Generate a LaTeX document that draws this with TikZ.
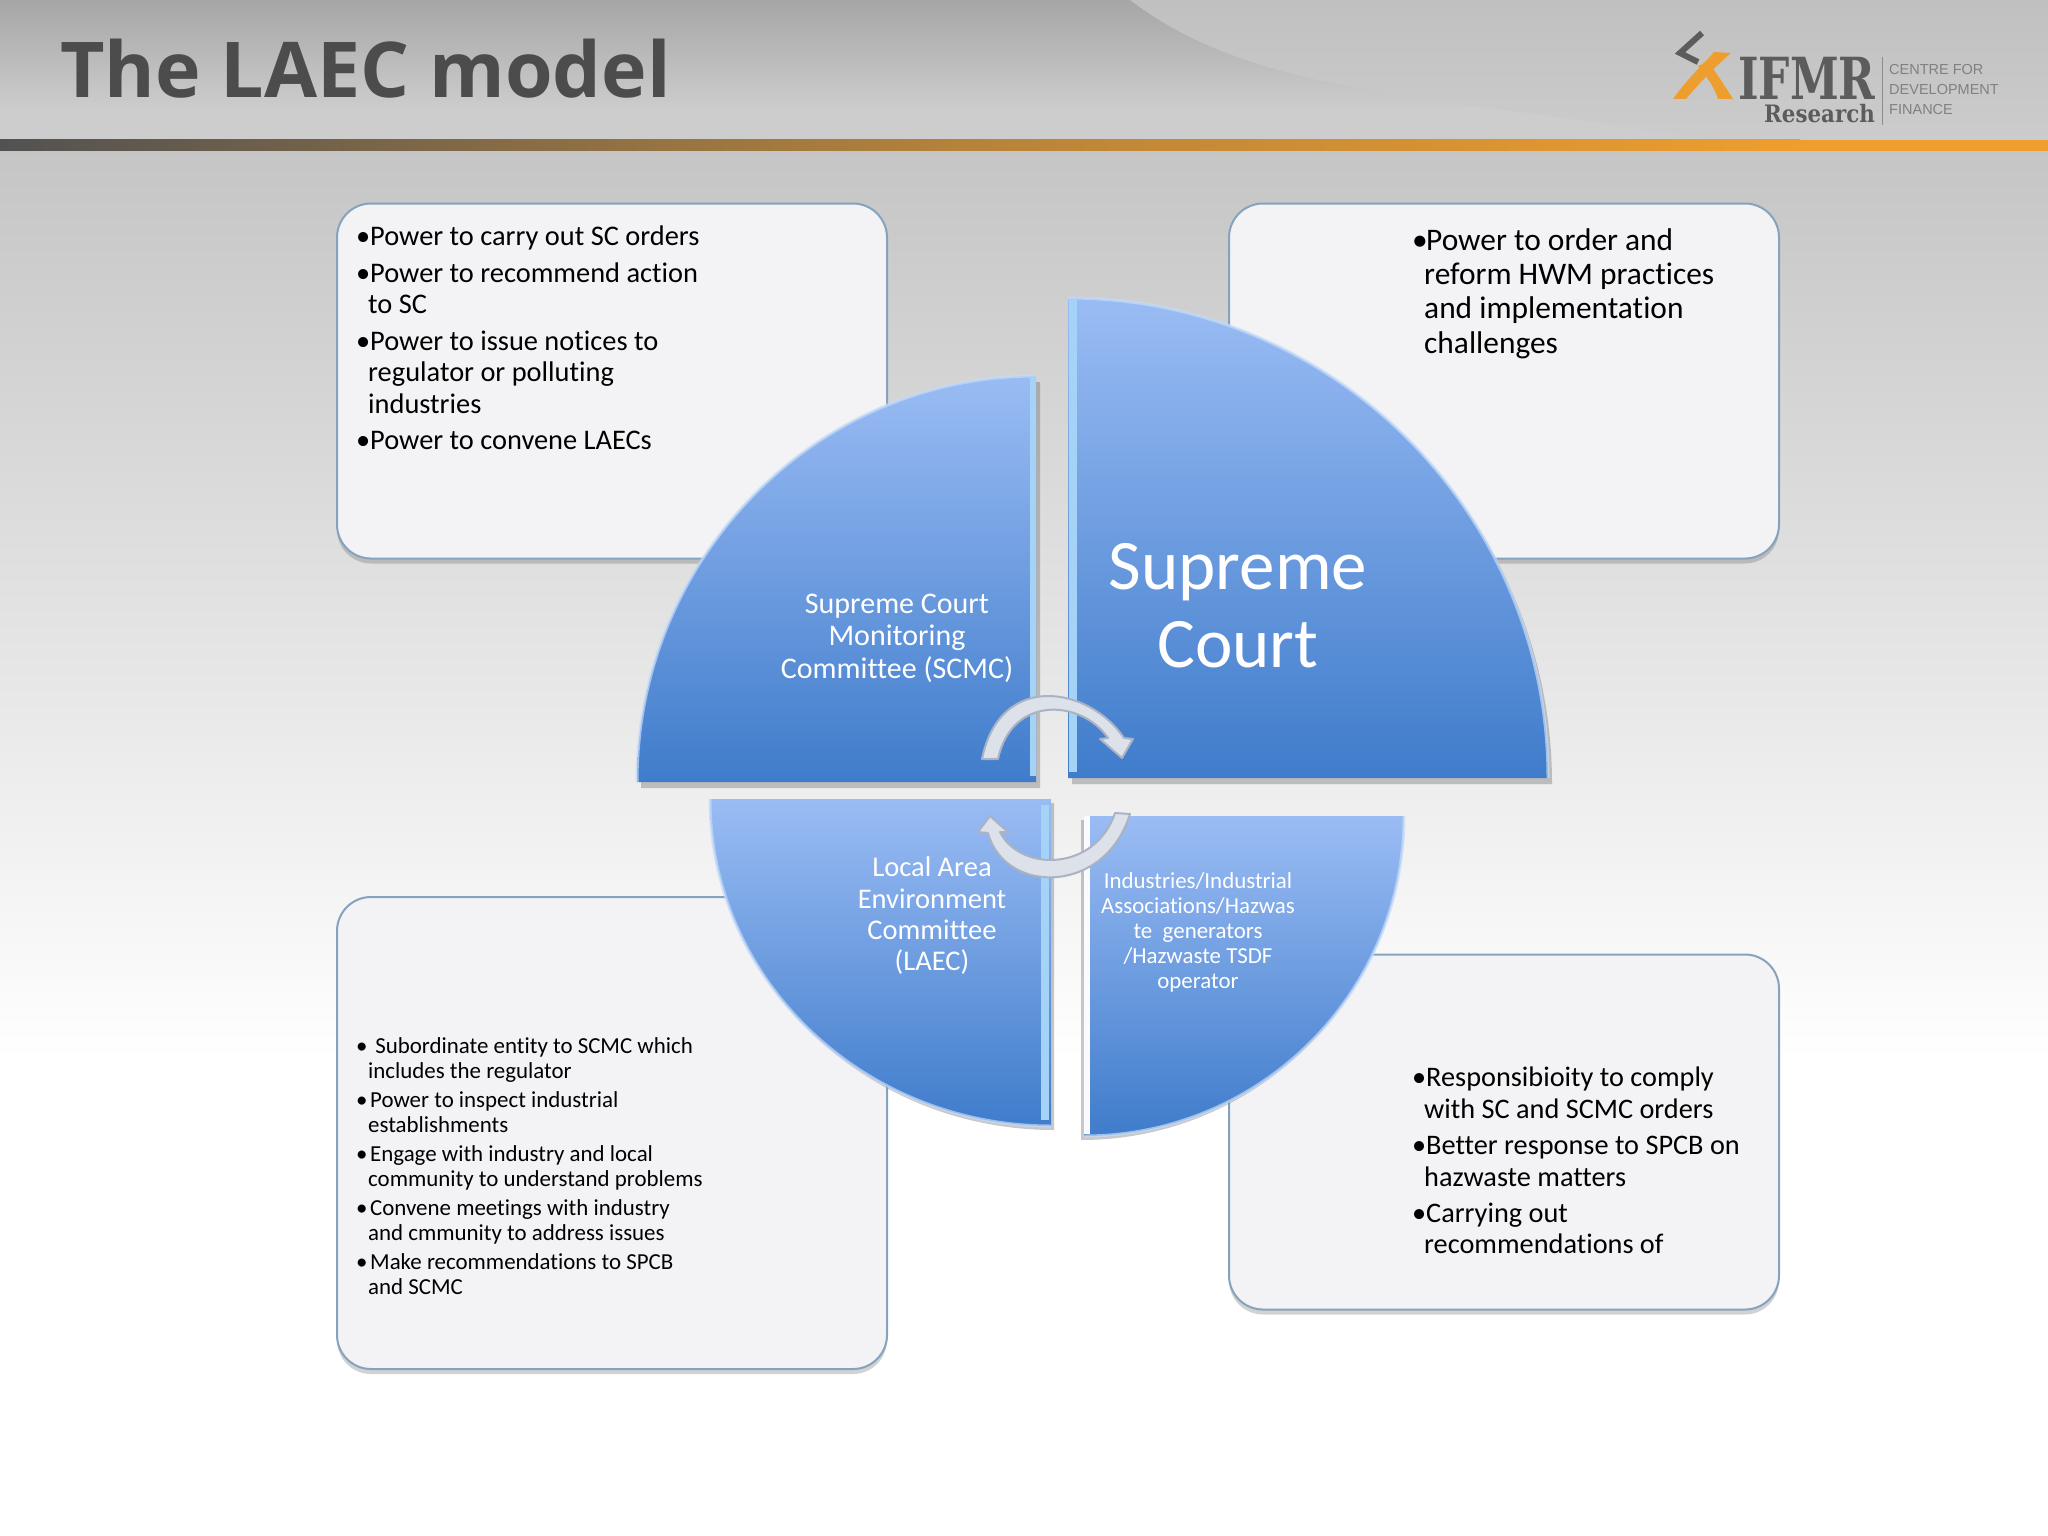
\documentclass[tikz,border=0pt]{standalone}
\usepackage{fontspec}
\setmainfont[Ligatures=NoCommon]{Carlito}
\newfontfamily\titlefont{Open Sans}
\newfontfamily\logoserif{DejaVu Serif}
\newfontfamily\logosans{Liberation Sans}
\usetikzlibrary{arrows.meta,shadows}

\definecolor{panelfill}{HTML}{F3F3F5}
\definecolor{paneledge}{HTML}{86A3BE}
\definecolor{discLight}{HTML}{9ABCF4}
\definecolor{discDark}{HTML}{3F7CCB}
\definecolor{discEdge}{HTML}{C4DBF9}
\definecolor{discBevel}{HTML}{A5D2F7}
\definecolor{logoOrange}{HTML}{EE9E2E}
\definecolor{logoGray}{HTML}{5C5C5C}
\definecolor{turnEdge}{HTML}{A9B3C3}
\definecolor{turnFace}{HTML}{DCE1EA}
\definecolor{bandTop}{HTML}{A6A6A6}
\definecolor{bandLow}{HTML}{CDCDCD}
\definecolor{sweepTop}{HTML}{C0C0C0}
\definecolor{sweepLow}{HTML}{CCCCCC}
\definecolor{pageTop}{HTML}{C5C5C5}
\definecolor{stripeDark}{HTML}{525252}
\definecolor{stripeMid}{HTML}{B98439}

\newcommand{\lbl}{\makebox[14pt][l]{\textbullet}}
\newcommand{\lcont}{\hspace*{12pt}}

\tikzset{
	panelbox/.style={draw=paneledge,line width=2pt,fill=panelfill,rounded corners=34pt,inner sep=0pt,
		drop shadow={shadow xshift=0pt,shadow yshift=-5pt,opacity=.25,fill=black!70}},
	listtext/.style={align=left,anchor=north west,inner sep=0pt,text=black},
	disclabel/.style={align=center,text=white,inner sep=0pt},
	discfill/.style={top color=discLight,bottom color=discDark},
	discshadow/.style={fill=black!70,opacity=.3},
	discrim/.style={draw=discEdge,line width=3pt,opacity=.7},
	turnband/.style={draw=turnEdge,line width=2pt,fill=turnFace,line join=round},
}

\begin{document}
\begin{tikzpicture}[x=1pt,y=1pt]

	\useasboundingbox (0,0) rectangle (2048,-1536);

	% page and title band
	\shade[top color=pageTop,bottom color=white] (0,-148) rectangle (2048,-1060);
	\fill[white] (0,-1060) rectangle (2048,-1536);
	\shade[top color=bandTop,bottom color=bandLow] (0,0) rectangle (2048,-110);
	\fill[bandLow] (0,-110) rectangle (2048,-141);
	\shade[top color=sweepTop,bottom color=sweepLow] (1130,0) .. controls (1170,-30) and (1230,-65) .. (1358,-88) .. controls (1450,-105) and (1560,-115) .. (1720,-141) -- (2048,-141) -- (2048,0) -- cycle;
	\shade[left color=stripeDark,right color=stripeMid] (0,-140) rectangle (1000,-151);
	\shade[left color=stripeMid,right color=logoOrange] (1000,-140) rectangle (1800,-151);
	\fill[logoOrange] (1800,-140) rectangle (2048,-151);

	\node[anchor=base west,inner sep=0pt,text=black!70,font=\fontsize{77}{90}\selectfont\titlefont\bfseries] (title) at (60,-98) {The LAEC model};

	% logo
	\fill[logoOrange] (1673,-99) .. controls (1690,-75) and (1708,-60) .. (1714,-52) -- (1731,-53) .. controls (1716,-66) and (1700,-82) .. (1686,-99) -- cycle;
	\fill[logoOrange] (1698,-66) -- (1708,-62) .. controls (1718,-75) and (1726,-88) .. (1733,-99) -- (1718,-99) .. controls (1714,-86) and (1706,-76) .. (1698,-66) -- cycle;
	\draw[logoGray,line width=6pt] (1702,-33) -- (1680,-53) -- (1698,-62);
	\node[anchor=base west,inner sep=0pt,text=logoGray,font=\fontsize{58}{58}\selectfont\logoserif\bfseries] (logoName) at (1738,-100) {\scalebox{.76}[1]{IFMR}};
	\node[anchor=base east,inner sep=0pt,text=logoGray,font=\fontsize{24}{24}\selectfont\logoserif\bfseries] (logoSub) at (1875,-123) {\scalebox{.89}[1]{Research}};
	\draw[black!45,line width=1pt] (1882,-57) -- (1882,-125);
	\node[anchor=north west,align=left,inner sep=0pt,text=black!50,font=\fontsize{14.5}{20}\selectfont\logosans] (logoText) at (1889,-64) {CENTRE FOR\\DEVELOPMENT\\FINANCE};

	% text panels
	\node[panelbox,minimum width=550pt,minimum height=355pt] (boxPowers) at (612,-381) {};
	\node[panelbox,minimum width=550pt,minimum height=355pt] (boxCourt) at (1504,-381) {};
	\node[panelbox,minimum width=550pt,minimum height=472pt] (boxLaec) at (612,-1133) {};
	\node[panelbox,minimum width=550pt,minimum height=355pt] (boxIndustry) at (1504,-1132) {};

	% quarter discs
	\fill[discshadow] (1040,-788) -- (1040,-382) arc[start angle=90,end angle=180,x radius=399,y radius=406] -- cycle;
	\shade[discfill] (1036,-782) -- (1036,-376) arc[start angle=90,end angle=180,x radius=399,y radius=406] -- cycle;
	\draw[discrim] (1036,-376) arc[start angle=90,end angle=180,x radius=399,y radius=406];
	\fill[discBevel] (1030,-378) rectangle (1036,-776);

	\fill[discshadow] (1072,-784) -- (1072,-304) arc[start angle=90,end angle=0,radius=480] -- cycle;
	\shade[discfill] (1068,-778) -- (1068,-298) arc[start angle=90,end angle=0,radius=480] -- cycle;
	\draw[discrim] (1068,-298) arc[start angle=90,end angle=0,radius=480];
	\fill[discBevel] (1069,-300) rectangle (1077,-772);

	\fill[discshadow] (1054,-803) -- (713,-803) arc[start angle=180,end angle=270,x radius=341,y radius=327] -- cycle;
	\shade[discfill] (1051,-799) -- (710,-799) arc[start angle=180,end angle=270,x radius=341,y radius=327] -- cycle;
	\draw[discrim] (710,-799) arc[start angle=180,end angle=270,x radius=341,y radius=327];
	\fill[discBevel] (1041,-805) rectangle (1049,-1120);

	\fill[discshadow] (1081,-820) -- (1401,-820) arc[start angle=0,end angle=-90,radius=320] -- cycle;
	\shade[discfill] (1084,-816) -- (1404,-816) arc[start angle=0,end angle=-90,radius=320] -- cycle;
	\draw[discrim] (1404,-816) arc[start angle=0,end angle=-90,radius=320];
	\fill[white!90!discEdge] (1084,-816) rectangle (1090,-1134);

	% disc labels
	\node[disclabel,font=\fontsize{71}{78}\selectfont] (labelCourt) at (1238,-606) {Supreme\\Court};
	\node[disclabel,font=\fontsize{30}{32.6}\selectfont] (labelScmc) at (897,-638) {Supreme Court\\Monitoring\\Committee (SCMC)};
	\node[disclabel,font=\fontsize{28.5}{31.3}\selectfont] (labelLaec) at (932,-916) {Local Area\\Environment\\Committee\\(LAEC)};
	\node[disclabel,font=\fontsize{22.9}{25}\selectfont] (labelIndustry) at (1198,-932) {Industries/Industrial\\Associations/Hazwas\\te\ \ generators\\/Hazwaste TSDF\\operator};

	% turning arrows
	\coordinate (turnTopStart) at (982,-759);
	\coordinate (turnTopTip) at (1122,-758);
	\coordinate (turnLowStart) at (1130,-814);
	\coordinate (turnLowTip) at (990,-816);
	\draw[turnband] (turnTopStart) .. controls (1000,-670) and (1090,-687) .. (1124,-738) -- (1133,-739) -- (turnTopTip) -- (1100,-739) -- (1108,-738) .. controls (1082,-700) and (1012,-694) .. (998,-759) -- cycle;
	\draw[turnband] (turnLowStart) .. controls (1105,-895) and (1005,-895) .. (988,-833) -- (978,-832) -- (turnLowTip) -- (1008,-832) -- (1000,-832) .. controls (1020,-872) and (1095,-872) .. (1115,-813) -- cycle;

	% panel texts
	\node[listtext,font=\fontsize{28.4}{31.3}\selectfont] (listPowers) at (356,-226) {
		\lbl Power to carry out SC orders\\[5.3pt]
		\lbl Power to recommend action\\
		\lcont to SC\\[5.3pt]
		\lbl Power to issue notices to\\
		\lcont regulator or polluting\\
		\lcont industries\\[5.3pt]
		\lbl Power to convene LAECs};
	\node[listtext,font=\fontsize{31.4}{34.4}\selectfont] (listCourt) at (1412,-228) {
		\lbl Power to order and\\
		\lcont reform HWM practices\\
		\lcont and implementation\\
		\lcont challenges};
	\node[listtext,font=\fontsize{22.9}{25}\selectfont] (listLaec) at (356,-1037) {
		\lbl\ Subordinate entity to SCMC which\\
		\lcont includes the regulator\\[4pt]
		\lbl Power to inspect industrial\\
		\lcont establishments\\[4pt]
		\lbl Engage with industry and local\\
		\lcont community to understand problems\\[4pt]
		\lbl Convene meetings with industry\\
		\lcont and cmmunity to address issues\\[4pt]
		\lbl Make recommendations to SPCB\\
		\lcont and SCMC};
	\node[listtext,font=\fontsize{28.3}{31.3}\selectfont] (listIndustry) at (1412,-1067) {
		\lbl Responsibioity to comply\\
		\lcont with SC and SCMC orders\\[5.3pt]
		\lbl Better response to SPCB on\\
		\lcont hazwaste matters\\[5.3pt]
		\lbl Carrying out\\
		\lcont recommendations of};

\end{tikzpicture}
\end{document}
